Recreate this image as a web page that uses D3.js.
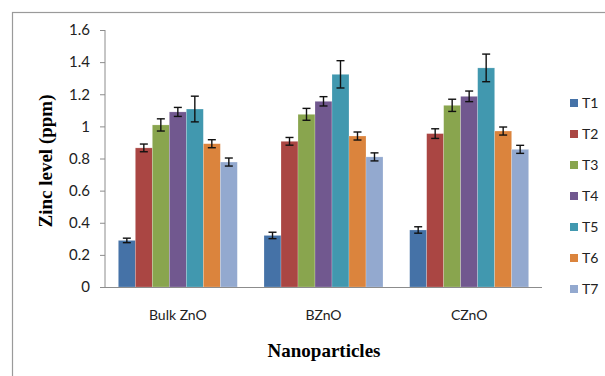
<!DOCTYPE html>
<html lang="en">

<head>
    <meta charset="utf-8">
    <title>Zinc level</title>
    <script type="text/javascript" src="https://d3js.org/d3.v7.min.js"></script>
    <style>
        body { margin: 0; background: #fff; }
        text { fill: #222; }
        .tick text { font-family: Lato, sans-serif; font-size: 15px; }
        .cat { font-family: Lato, sans-serif; font-size: 14px; }
        .title { font-family: "Liberation Serif", serif; font-weight: bold; font-size: 19px; fill: #000; }
        .legend text { font-family: Lato, sans-serif; font-size: 14px; }
    </style>
</head>

<body>
    <div id="container"></div>
    <script type="text/javascript">
        var w = 605;
        var h = 376;

        // data
        var groups = ["Bulk ZnO", "BZnO", "CZnO"];
        var treatments = ["T1", "T2", "T3", "T4", "T5", "T6", "T7"];
        var bulkZnO = [0.29, 0.866, 1.009, 1.09, 1.108, 0.892, 0.778];
        var bZnO = [0.321, 0.907, 1.075, 1.156, 1.324, 0.94, 0.81];
        var cZnO = [0.355, 0.955, 1.131, 1.187, 1.364, 0.971, 0.857];
        var bulkErr = [0.014, 0.024, 0.038, 0.028, 0.08, 0.025, 0.025];
        var bErr = [0.02, 0.024, 0.037, 0.029, 0.085, 0.025, 0.025];
        var cErr = [0.02, 0.03, 0.038, 0.033, 0.086, 0.025, 0.025];
        var yTicks = [0, 0.2, 0.4, 0.6, 0.8, 1, 1.2, 1.4, 1.6];
        var colors = ["#4572A7", "#AA4643", "#89A54E", "#71588F", "#4198AF", "#DB843D", "#93A9CF"];

        var values = [bulkZnO, bZnO, cZnO];
        var errs = [bulkErr, bErr, cErr];

        const svg = d3.select("div#container")
            .append("svg")
            .attr("width", w)
            .attr("height", h);

        // outer chart border
        svg.append("rect")
            .attr("x", 12.5).attr("y", 12.5)
            .attr("width", 620).attr("height", 400)
            .attr("fill", "none")
            .attr("stroke", "#9a9a9a")
            .attr("stroke-width", 1.2);

        var pLeft = 105, pRight = 542, pTop = 30, pBottom = 287;

        var x0 = d3.scaleBand().domain(groups).range([pLeft, pRight]).paddingInner(0).paddingOuter(0);
        var x1 = d3.scaleBand().domain(treatments).range([0, x0.bandwidth()]).paddingOuter(0.785).paddingInner(0);
        var y = d3.scaleLinear().domain([0, 1.6]).range([pBottom, pTop]);

        // bars
        var rows = [];
        groups.forEach(function (g, gi) {
            treatments.forEach(function (t, ti) {
                rows.push({ g: g, t: t, v: values[gi][ti], e: errs[gi][ti], c: colors[ti] });
            });
        });

        svg.selectAll("rect.bar")
            .data(rows)
            .enter()
            .append("rect")
            .attr("class", "bar")
            .attr("x", (d) => x0(d.g) + x1(d.t))
            .attr("y", (d) => y(d.v))
            .attr("width", x1.bandwidth())
            .attr("height", (d) => y(0) - y(d.v))
            .attr("fill", (d) => d.c)
            .attr("stroke", "#ffffff")
            .attr("stroke-opacity", 0.35)
            .attr("stroke-width", 0.6);

        // error bars
        var eb = svg.selectAll("g.err")
            .data(rows)
            .enter()
            .append("g")
            .attr("class", "err")
            .attr("stroke", "#111")
            .attr("stroke-width", 1.4);
        var cx = (d) => x0(d.g) + x1(d.t) + x1.bandwidth() / 2;
        eb.append("line")
            .attr("x1", cx).attr("x2", cx)
            .attr("y1", (d) => y(d.v + d.e)).attr("y2", (d) => y(d.v - d.e));
        eb.append("line")
            .attr("x1", (d) => cx(d) - 4).attr("x2", (d) => cx(d) + 4)
            .attr("y1", (d) => y(d.v + d.e)).attr("y2", (d) => y(d.v + d.e));
        eb.append("line")
            .attr("x1", (d) => cx(d) - 4).attr("x2", (d) => cx(d) + 4)
            .attr("y1", (d) => y(d.v - d.e)).attr("y2", (d) => y(d.v - d.e));

        // y axis
        var yAxis = svg.append("g")
            .attr("transform", "translate(" + pLeft + ",0)")
            .call(d3.axisLeft(y).tickValues(yTicks).tickSize(5).tickPadding(10).tickFormat(d3.format("~g")));
        yAxis.selectAll("line, path").attr("stroke", "#8c8c8c");
        yAxis.select("path").attr("d", "M0," + pTop + "V" + pBottom);

        // x axis line
        svg.append("line")
            .attr("x1", pLeft).attr("x2", pRight)
            .attr("y1", pBottom + 0.5).attr("y2", pBottom + 0.5)
            .attr("stroke", "#8c8c8c")
            .attr("stroke-width", 1.2);

        svg.selectAll("text.cat")
            .data(groups)
            .enter()
            .append("text")
            .attr("class", "cat")
            .attr("x", (d) => x0(d) + x0.bandwidth() / 2)
            .attr("y", 320)
            .attr("text-anchor", "middle")
            .text((d) => d);

        // titles
        svg.append("text")
            .attr("class", "title")
            .attr("x", 324).attr("y", 357)
            .attr("text-anchor", "middle")
            .text("Nanoparticles");

        svg.append("text")
            .attr("class", "title")
            .attr("transform", "translate(52,161) rotate(-90)")
            .attr("text-anchor", "middle")
            .text("Zinc level (ppm)");

        // legend
        var lg = svg.append("g").attr("class", "legend")
            .selectAll("g")
            .data(treatments)
            .enter()
            .append("g")
            .attr("transform", (d, i) => "translate(570," + (99 + i * 31) + ")");
        lg.append("rect")
            .attr("width", 8).attr("height", 8)
            .attr("fill", (d, i) => colors[i]);
        lg.append("text")
            .attr("x", 12).attr("y", 9)
            .text((d) => d);
    </script>
</body>

</html>
